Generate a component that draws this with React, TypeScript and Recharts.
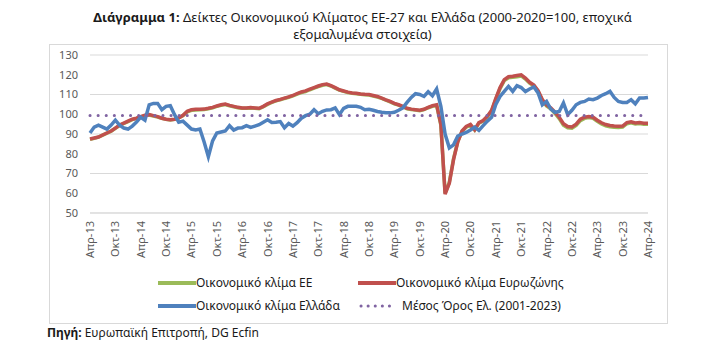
import React from 'react';
import { CartesianGrid, Line, LineChart, XAxis, YAxis } from 'recharts';

// monthly, Apr-13 .. Apr-24 (133 points)
const tickLabels = [
  'Απρ-13', 'Οκτ-13', 'Απρ-14', 'Οκτ-14', 'Απρ-15', 'Οκτ-15', 'Απρ-16', 'Οκτ-16',
  'Απρ-17', 'Οκτ-17', 'Απρ-18', 'Οκτ-18', 'Απρ-19', 'Οκτ-19', 'Απρ-20', 'Οκτ-20',
  'Απρ-21', 'Οκτ-21', 'Απρ-22', 'Οκτ-22', 'Απρ-23', 'Οκτ-23', 'Απρ-24',
];

const euValues = [
  87.3, 87.8, 88.4, 89.4, 90.4, 91.4, 92.9, 94.3, 95.3, 96.3,
  97.3, 97.9, 98.6, 99.3, 99.6, 99.1, 98.6, 97.9, 97.4, 97.1,
  97.4, 98.1, 99.3, 101.2, 102, 102.2, 102.3, 102.4, 102.8, 103.2,
  104, 104.5, 104.9, 104.3, 103.8, 103.3, 103, 103, 103.2, 103,
  102.8, 103.8, 105, 106, 106.8, 107.3, 108, 108.6, 109.3, 110.2,
  111, 111.5, 112.4, 113.2, 114, 114.7, 115, 114.3, 113.2, 112.2,
  111.6, 111, 110.6, 110.4, 110.1, 109.9, 109.7, 109.2, 108.7, 108,
  107.1, 106.3, 105.3, 104.6, 103.8, 102.8, 102.4, 102.1, 101.8, 102.3,
  103.3, 104, 104.5, 94.5, 60, 65.5, 77.5, 86.2, 91.3, 93.5,
  94.5, 92, 95.5, 96.5, 98.7, 101.7, 107.5, 113, 117, 118.5,
  118.7, 119, 119.4, 117.8, 115.7, 114.3, 111.5, 107, 104.2, 102.7,
  100.4, 97.8, 94.5, 93.1, 92.9, 94.3, 96.8, 97.9, 98.3, 97.9,
  96.4, 95.1, 94.2, 93.7, 93.4, 93.3, 93.5, 95.2, 95.7, 95.1,
  95.3, 95, 95,
];

const euroAreaValues = [
  87.5, 88, 88.5, 89.5, 90.5, 91.5, 93, 94.5, 95.5, 96.5,
  97.5, 98, 98.8, 99.5, 99.8, 99.3, 98.8, 98, 97.5, 97.2,
  97.5, 98.2, 99.5, 101.5, 102.3, 102.5, 102.5, 102.6, 103, 103.5,
  104.2, 104.8, 105.2, 104.5, 104, 103.5, 103.2, 103.2, 103.4, 103.2,
  103, 104, 105.3, 106.2, 107, 107.5, 108.2, 108.8, 109.5, 110.5,
  111.3, 111.8, 112.7, 113.5, 114.3, 115, 115.3, 114.5, 113.5, 112.4,
  111.8, 111.2, 110.8, 110.6, 110.3, 110.1, 110, 109.5, 109, 108.2,
  107.3, 106.5, 105.5, 104.8, 104, 103, 102.6, 102.3, 102, 102.5,
  103.5, 104.3, 104.8, 95, 59.5, 65, 77, 86, 91.5, 93.8,
  94.8, 92.2, 95.8, 96.8, 99, 102, 108, 113.5, 117.5, 119,
  119.2, 119.6, 120, 118.3, 116.2, 114.8, 112, 107.5, 104.7, 103.3,
  101, 98.5, 95.2, 93.8, 93.6, 95, 97.5, 98.5, 98.9, 98.5,
  97, 95.7, 94.8, 94.3, 94, 93.9, 94, 95.8, 96.2, 95.6,
  95.8, 95.5, 95.5,
];

const greeceValues = [
  90.5, 93.5, 94.5, 93.5, 92.5, 94.5, 97, 94.5, 93, 92.5,
  94, 96, 98.5, 97, 104.8, 105.5, 105.5, 102.3, 104, 104.3,
  99.8, 96, 96.5, 94.5, 92.5, 92, 92.5, 86, 78.5, 86.5,
  90.5, 91, 91.5, 94.2, 92, 93, 93.2, 94.2, 93.3, 94,
  94.7, 96, 97.2, 95.8, 96, 96.3, 93.2, 95.3, 94, 95.7,
  98, 99.3, 100, 102.3, 100.3, 101.5, 102.2, 102.3, 103.2, 99.8,
  103, 104, 104, 104, 103.5, 102.3, 102.5, 102, 101.4, 101,
  100.8, 100.7, 101, 102, 103.2, 106, 108.5, 110.4, 110, 109,
  111.4, 109.4, 112.8, 104, 90, 83, 84.5, 89, 90, 90.8,
  92, 93.5, 91.8, 94.2, 96.5, 98.5, 105, 109, 111.6, 114.1,
  111.6, 114.5, 113.5, 111.5, 112.8, 113.8, 110.8, 104.8, 106.5, 102.6,
  101, 101.4, 105.7, 99.8, 102, 104.8, 106, 106.5, 107.7, 107.4,
  108.2, 109.5, 110.4, 111.6, 108.5, 106.5, 106, 106, 107.4, 105.3,
  108.2, 108.2, 108.5,
];

const greeceMean = 99.4;

const yTicks = [50, 60, 70, 80, 90, 100, 110, 120, 130];

const data = greeceValues.map((v, i) => ({
  i,
  eu: euValues[i],
  ea: euroAreaValues[i],
  gr: v,
  mean: greeceMean,
}));

const xTicks = tickLabels.map((_, k) => k * 6);

const FONT = '"Noto Sans", sans-serif';

const XTick = (props: any) => {
  const { x, y, payload } = props;
  return (
    <g transform={`translate(${x},${y})`}>
      <text
        x={0}
        y={0}
        dy={4}
        textAnchor="end"
        transform="rotate(-90)"
        fontSize={11}
        fontFamily={FONT}
        fill="#595959"
      >
        {tickLabels[payload.value / 6]}
      </text>
    </g>
  );
};

const LegendSwatch = ({ color, dotted }: { color: string; dotted?: boolean }) => (
  <svg width={38} height={8} style={{ display: 'block' }}>
    {dotted ? (
      <line x1={3} y1={4} x2={33} y2={4} stroke={color} strokeWidth={3} strokeDasharray="0.1 7" strokeLinecap="round" />
    ) : (
      <line x1={0} y1={4} x2={38} y2={4} stroke={color} strokeWidth={4} />
    )}
  </svg>
);

const legendItems = [
  { label: 'Οικονομικό κλίμα ΕΕ', color: '#9bbb59', left: 158, top: 283, textLeft: 196 },
  { label: 'Οικονομικό κλίμα Ευρωζώνης', color: '#c0504d', left: 358, top: 283, textLeft: 396 },
  { label: 'Οικονομικό κλίμα Ελλάδα', color: '#4f81bd', left: 158, top: 306, textLeft: 196 },
  { label: 'Μέσος Όρος Ελ. (2001-2023)', color: '#8064a2', left: 358, top: 306, textLeft: 402, dotted: true },
];

export default function App() {
  return (
    <div
      style={{
        position: 'absolute',
        left: 0,
        top: 0,
        width: 725,
        height: 357,
        background: '#fff',
        fontFamily: FONT,
        color: '#1a1a1a',
      }}
    >
      <div
        style={{
          position: 'absolute',
          left: 0,
          top: 9,
          width: 725,
          textAlign: 'center',
          fontSize: 13,
          lineHeight: '17px',
        }}
      >
        <div style={{ width: 580, margin: '0 auto' }}>
          <b>Διάγραμμα 1:</b> Δείκτες Οικονομικού Κλίματος ΕΕ-27 και Ελλάδα (2000-2020=100, εποχικά
          εξομαλυμένα στοιχεία)
        </div>
      </div>

      <div
        style={{
          position: 'absolute',
          left: 49,
          top: 44,
          width: 617,
          height: 278,
          border: '1px solid #d9d9d9',
        }}
      />

      <div style={{ position: 'absolute', left: 0, top: 0 }}>
        <LineChart
          width={725}
          height={357}
          data={data}
          margin={{ top: 55, right: 77, bottom: 99, left: 50 }}
        >
          <CartesianGrid vertical={false} stroke="#d9d9d9" />
          <XAxis
            dataKey="i"
            type="number"
            domain={[0, 132]}
            ticks={xTicks}
            interval={0}
            height={45}
            axisLine={{ stroke: '#d9d9d9' }}
            tickLine={false}
            tick={<XTick />}
            tickSize={4}
            tickMargin={4}
          />
          <YAxis
            domain={[50, 130]}
            ticks={yTicks}
            width={40}
            axisLine={false}
            tickLine={false}
            tickSize={0}
            tickMargin={12}
            tick={{ fontSize: 11, fill: '#595959', fontFamily: FONT }}
          />
          <Line
            dataKey="eu"
            stroke="#9bbb59"
            strokeWidth={3.5}
            dot={false}
            isAnimationActive={false}
          />
          <Line
            dataKey="ea"
            stroke="#c0504d"
            strokeWidth={3.5}
            dot={false}
            isAnimationActive={false}
          />
          <Line
            dataKey="gr"
            stroke="#4f81bd"
            strokeWidth={3.5}
            dot={false}
            isAnimationActive={false}
          />
          <Line
            dataKey="mean"
            stroke="#8064a2"
            strokeWidth={3}
            strokeDasharray="0.1 8"
            strokeLinecap="round"
            dot={false}
            isAnimationActive={false}
          />
        </LineChart>
      </div>

      {legendItems.map((it) => (
        <React.Fragment key={it.label}>
          <div style={{ position: 'absolute', left: it.left, top: it.top - 4 }}>
            <LegendSwatch color={it.color} dotted={it.dotted} />
          </div>
          <div
            style={{
              position: 'absolute',
              left: it.textLeft,
              top: it.top - 9,
              fontSize: 12,
              lineHeight: '18px',
              whiteSpace: 'nowrap',
            }}
          >
            {it.label}
          </div>
        </React.Fragment>
      ))}

      <div
        style={{
          position: 'absolute',
          left: 47,
          top: 325,
          fontSize: 12,
          lineHeight: '16px',
          whiteSpace: 'nowrap',
        }}
      >
        <b>Πηγή:</b> Ευρωπαϊκή Επιτροπή, DG Ecfin
      </div>
    </div>
  );
}
